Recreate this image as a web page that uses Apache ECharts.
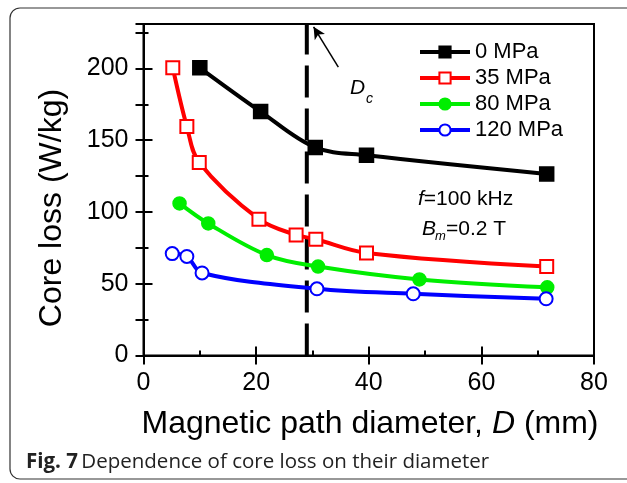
<!DOCTYPE html>
<head>
    <meta charset="utf-8">
    <title>Core loss vs diameter</title>
    <script src="https://cdn.jsdelivr.net/npm/echarts@6.0.0/dist/echarts.min.js"></script>
    <style>
        html, body { margin: 0; padding: 0; background: #fff; }
        #main { width: 627px; height: 483px; }
    </style>
</head>
<body>
<div id="main"></div>
<script type="text/javascript">
    // data: diameter D (mm) and core loss (W/kg)
    var names = ['0 MPa', '35 MPa', '80 MPa', '120 MPa'];
    var d0   = [10, 20.8, 30.5, 39.6, 71.6];
    var p0   = [200.5, 170, 145, 139.5, 126.5];
    var d35  = [5.2, 7.7, 9.9, 20.5, 27.1, 30.6, 39.6, 71.6];
    var p35  = [200.5, 159.5, 134.5, 95, 84, 81, 71.5, 62];
    var d80  = [6.4, 11.5, 21.9, 31, 49, 71.7];
    var p80  = [106, 92, 70, 62, 53, 47.5];
    var d120 = [5.1, 7.7, 10.4, 30.8, 47.9, 71.5];
    var p120 = [71, 69, 57.5, 46.5, 43, 39.5];
    // critical diameter Dc and its arrow
    var dcX = [29, 29];
    var dcY = [0, 231];
    var arrowFrom = [34.6, 201];
    var arrowTo = [30.2, 229];
    var xTicks = [0, 20, 40, 60, 80];
    var yTicks = [0, 50, 100, 150, 200];

    var font = 'Liberation Sans, Arial, sans-serif';
    var myChart;
    var option;

    function pairs(xs, ys) {
        var out = [];
        for (var i = 0; i < xs.length; i++) out.push([xs[i], ys[i]]);
        return out;
    }

    function lineSeries(name, xs, ys, color, symbol, size) {
        return {
            name: name,
            type: 'line',
            data: pairs(xs, ys),
            smooth: 0.35,
            symbol: symbol,
            symbolSize: size,
            showAllSymbol: true,
            lineStyle: { color: color, width: 4 },
            itemStyle: { color: color, borderColor: color, borderWidth: 1.5 },
            z: 3
        };
    }

    function initOption() {
        option = {
            animation: false,
            backgroundColor: '#fff',
            textStyle: { fontFamily: font },
            grid: {
                left: 143.5, right: 33, top: 24, bottom: 127.5,
                containLabel: false,
                outerBoundsMode: 'none',
                show: true, borderColor: '#000', borderWidth: 2
            },
            legend: {
                data: names,
                orient: 'vertical',
                left: 413, top: 36,
                itemWidth: 50, itemHeight: 14, itemGap: 4,
                lineStyle: { width: 4 },
                textStyle: { fontSize: 22, lineHeight: 21, color: '#000', fontFamily: font }
            },
            xAxis: [
                {   // bottom, labelled, major ticks
                    type: 'value', min: 0, max: 80, interval: 20, position: 'bottom',
                    axisLine: { lineStyle: { color: '#000', width: 2 } },
                    axisTick: { inside: true, length: 9, lineStyle: { color: '#000', width: 2 } },
                    axisLabel: { fontSize: 25, color: '#000', margin: 15,
                        formatter: function (v) { return xTicks.indexOf(v) >= 0 ? v : ''; } },
                    splitLine: { show: false }
                },
                {   // bottom, minor ticks
                    type: 'value', min: 0, max: 80, interval: 10, position: 'bottom',
                    axisLine: { show: false },
                    axisTick: { inside: true, length: 5, lineStyle: { color: '#000', width: 2 } },
                    axisLabel: { show: false }, splitLine: { show: false }
                },
                {   // top mirror
                    type: 'value', min: 0, max: 80, interval: 20, position: 'top',
                    axisLine: { lineStyle: { color: '#000', width: 2 } },
                    axisTick: { inside: true, length: 9, lineStyle: { color: '#000', width: 2 } },
                    axisLabel: { show: false }, splitLine: { show: false }
                }
            ],
            yAxis: [
                {   // left, labelled, major ticks
                    type: 'value', min: 0, max: 231, interval: 50, position: 'left',
                    axisLine: { lineStyle: { color: '#000', width: 2 } },
                    axisTick: { inside: true, length: 9, lineStyle: { color: '#000', width: 2 } },
                    axisLabel: { fontSize: 25, color: '#000', margin: 15, showMaxLabel: false,
                        formatter: function (v) { return yTicks.indexOf(v) >= 0 ? v : ''; } },
                    splitLine: { show: false }
                },
                {   // left, minor ticks
                    type: 'value', min: 0, max: 231, interval: 25, position: 'left',
                    axisLine: { show: false },
                    axisTick: { inside: true, length: 5, lineStyle: { color: '#000', width: 2 } },
                    axisLabel: { show: false }, splitLine: { show: false }
                },
                {   // right mirror
                    type: 'value', min: 0, max: 231, interval: 25, position: 'right',
                    axisLine: { lineStyle: { color: '#000', width: 2 } },
                    axisTick: { inside: true, length: 8, lineStyle: { color: '#000', width: 2 } },
                    axisLabel: { show: false }, splitLine: { show: false }
                }
            ],
            series: [
                lineSeries(names[0], d0, p0, '#000000', 'rect', 14),
                lineSeries(names[1], d35, p35, '#ff0000', 'emptyRect', 13),
                lineSeries(names[2], d80, p80, '#00ee00', 'circle', 13),
                lineSeries(names[3], d120, p120, '#0000ff', 'emptyCircle', 13),
                {
                    name: 'Dc',
                    type: 'line',
                    data: pairs(dcX, dcY),
                    symbol: 'none',
                    lineStyle: { color: '#000', width: 4, type: [32, 11] },
                    z: 2,
                    markLine: {
                        silent: true,
                        symbol: ['none', 'arrow'],
                        symbolSize: [9, 12],
                        label: { show: false },
                        lineStyle: { color: '#000', width: 1.5, type: 'solid' },
                        data: [[{ coord: arrowFrom }, { coord: arrowTo }]]
                    }
                }
            ],
            graphic: [
                {   // outer rounded frame
                    type: 'rect', silent: true,
                    shape: { x: 10, y: 8, width: 640, height: 471, r: 10 },
                    style: { fill: 'none', stroke: '#333', lineWidth: 1.2 }
                },
                {
                    type: 'text', x: 52, y: 208, rotation: Math.PI / 2,
                    style: { text: 'Core loss (W/kg)', font: '32px ' + font, fill: '#000',
                        align: 'center', verticalAlign: 'middle' }
                },
                {
                    type: 'text', x: 370, y: 424,
                    style: {
                        text: '{n|Magnetic path diameter, }{i|D}{n| (mm)}',
                        align: 'center', verticalAlign: 'middle',
                        rich: {
                            n: { font: '32px ' + font, fill: '#000' },
                            i: { font: 'italic 32px ' + font, fill: '#000' }
                        }
                    }
                },
                {
                    type: 'text', x: 350, y: 88,
                    style: { text: 'D', font: 'italic 21px ' + font, fill: '#000', verticalAlign: 'middle' }
                },
                {
                    type: 'text', x: 366, y: 99,
                    style: { text: 'c', font: 'italic 14px ' + font, fill: '#000', verticalAlign: 'middle' }
                },
                {
                    type: 'text', x: 418, y: 199,
                    style: {
                        text: '{i|f}{n|=100 kHz}', verticalAlign: 'middle',
                        rich: {
                            n: { font: '21px ' + font, fill: '#000' },
                            i: { font: 'italic 21px ' + font, fill: '#000' }
                        }
                    }
                },
                {
                    type: 'text', x: 422, y: 229,
                    style: { text: 'B', font: 'italic 21px ' + font, fill: '#000', verticalAlign: 'middle' }
                },
                {
                    type: 'text', x: 435, y: 236,
                    style: { text: 'm', font: 'italic 13px ' + font, fill: '#000', verticalAlign: 'middle' }
                },
                {
                    type: 'text', x: 446, y: 229,
                    style: { text: '=0.2 T', font: '21px ' + font, fill: '#000', verticalAlign: 'middle' }
                },
                {
                    type: 'text', x: 26, y: 462,
                    style: {
                        text: '{b|Fig. 7} {n|Dependence of core loss on their diameter}',
                        verticalAlign: 'middle',
                        rich: {
                            b: { font: 'bold 20.5px Open Sans, sans-serif', fill: '#222' },
                            n: { font: '20.5px Open Sans, sans-serif', fill: '#222' }
                        }
                    }
                }
            ]
        };
    }

    myChart = echarts.init(document.getElementById('main'));
    initOption();
    myChart.setOption(option);
</script>
</body>
